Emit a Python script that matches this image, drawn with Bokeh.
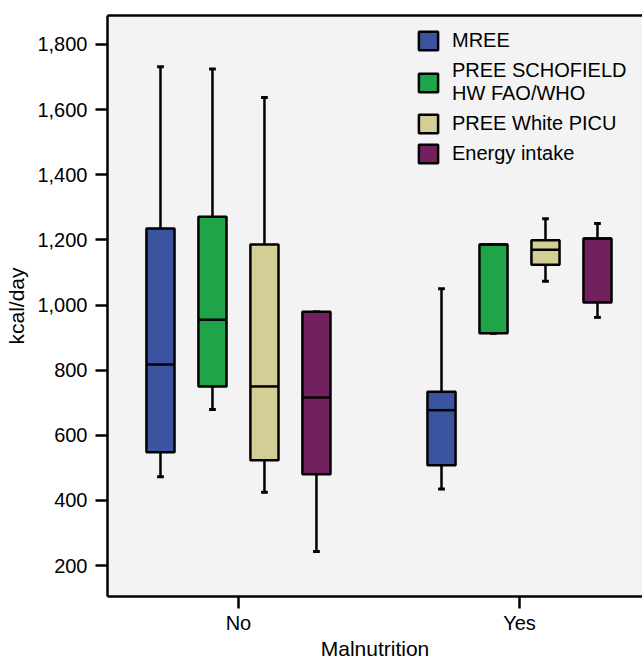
from bokeh.plotting import figure
from bokeh.models import (Range1d, FixedTicker, LinearAxis, Legend, LegendItem,
                          NumeralTickFormatter, ColumnDataSource)
from bokeh.transform import dodge
from bokeh.embed import file_html
from bokeh.resources import INLINE

# ---------------- data ----------------
groups = ["No", "Yes"]
series = ["MREE", "PREE SCHOFIELD\nHW FAO/WHO", "PREE White PICU", "Energy intake"]
colors = ["#3A54A0", "#1FA44A", "#D2CE96", "#73205F"]

mree_low = [473, 435]
mree_q1 = [548, 508]
mree_med = [817, 677]
mree_q3 = [1235, 734]
mree_high = [1732, 1050]

schofield_low = [679, 913]
schofield_q1 = [750, 913]
schofield_med = [955, 1186]
schofield_q3 = [1271, 1186]
schofield_high = [1725, 1186]

white_low = [425, 1073]
white_q1 = [523, 1124]
white_med = [750, 1170]
white_q3 = [1186, 1199]
white_high = [1637, 1265]

intake_low = [243, 962]
intake_q1 = [480, 1008]
intake_med = [716, 1204]
intake_q3 = [979, 1204]
intake_high = [979, 1250]

y_ticks = [200, 400, 600, 800, 1000, 1200, 1400, 1600, 1800]

stats = [
    (mree_low, mree_q1, mree_med, mree_q3, mree_high),
    (schofield_low, schofield_q1, schofield_med, schofield_q3, schofield_high),
    (white_low, white_q1, white_med, white_q3, white_high),
    (intake_low, intake_q1, intake_med, intake_q3, intake_high),
]

# ---------------- figure ----------------
FONT = "Liberation Sans"
p = figure(width=642, height=662, output_backend="svg", toolbar_location=None,
           x_range=Range1d(-0.466, 1.4377), y_range=Range1d(105, 1889),
           min_border_left=107, min_border_right=0, min_border_top=15,
           min_border_bottom=65, x_axis_location="below")
p.background_fill_color = "#F3F3F3"
p.border_fill_color = "white"
p.outline_line_color = None
p.xgrid.visible = False
p.ygrid.visible = False

for ax in (p.xaxis[0], p.yaxis[0]):
    ax.axis_line_width = 2.5
    ax.axis_line_color = "black"
    ax.major_tick_line_width = 2.5
    ax.major_tick_line_color = "black"
    ax.major_tick_in = 0
    ax.major_tick_out = 12
    ax.minor_tick_line_color = None
    ax.major_label_text_font = FONT
    ax.major_label_text_font_size = "20px"
    ax.major_label_text_color = "black"
    ax.axis_label_text_font = FONT
    ax.axis_label_text_font_size = "21px"
    ax.axis_label_text_font_style = "normal"
    ax.axis_label_text_color = "black"

p.yaxis[0].ticker = FixedTicker(ticks=y_ticks)
p.yaxis[0].formatter = NumeralTickFormatter(format="0,0")
p.yaxis[0].major_label_standoff = 8
p.yaxis[0].axis_label = "kcal/day"
p.yaxis[0].axis_label_standoff = 6

p.xaxis[0].ticker = FixedTicker(ticks=list(range(len(groups))))
p.xaxis[0].major_label_overrides = {i: g for i, g in enumerate(groups)}
p.xaxis[0].major_label_standoff = 3
p.xaxis[0].axis_label = "Malnutrition"
p.xaxis[0].axis_label_standoff = 0

# top frame line
top = LinearAxis(ticker=FixedTicker(ticks=[]), axis_line_width=2.5,
                 axis_line_color="black", major_tick_out=0, major_tick_in=0,
                 minor_tick_out=0, minor_tick_in=0,
                 major_label_text_font_size="0px")
p.add_layout(top, "above")

# ---------------- boxes ----------------
offsets = [-0.2775, -0.0925, 0.0925, 0.2775]
box_w = 0.1
cap_w = 0.024
items = []
for name, col, off, (lo, q1, med, q3, hi) in zip(series, colors, offsets, stats):
    src = ColumnDataSource(dict(g=list(range(len(groups))), lo=lo, q1=q1,
                                med=med, q3=q3, hi=hi))
    p.segment(x0=dodge("g", off, range=p.x_range), x1=dodge("g", off, range=p.x_range),
              y0="q3", y1="hi", source=src, line_color="black", line_width=2.5)
    p.segment(x0=dodge("g", off, range=p.x_range), x1=dodge("g", off, range=p.x_range),
              y0="q1", y1="lo", source=src, line_color="black", line_width=2.5)
    p.segment(x0=dodge("g", off - cap_w / 2, range=p.x_range),
              x1=dodge("g", off + cap_w / 2, range=p.x_range),
              y0="hi", y1="hi", source=src, line_color="black", line_width=3)
    p.segment(x0=dodge("g", off - cap_w / 2, range=p.x_range),
              x1=dodge("g", off + cap_w / 2, range=p.x_range),
              y0="lo", y1="lo", source=src, line_color="black", line_width=3)
    r = p.vbar(x=dodge("g", off, range=p.x_range), width=box_w, bottom="q1", top="q3",
               source=src, fill_color=col, line_color="black", line_width=2.5)
    p.segment(x0=dodge("g", off - box_w / 2, range=p.x_range),
              x1=dodge("g", off + box_w / 2, range=p.x_range),
              y0="med", y1="med", source=src, line_color="black", line_width=2.5)
    items.append(LegendItem(label=name, renderers=[r]))

legend = Legend(items=items, location=(309, 431), padding=0, margin=0,
                spacing=7, glyph_width=24, glyph_height=23, label_standoff=12,
                label_text_font=FONT, label_text_font_size="20px",
                label_text_line_height=1.2,
                label_text_color="black", background_fill_alpha=0,
                border_line_alpha=0)
p.add_layout(legend)

open("out.html", "w").write(file_html(p, INLINE))
